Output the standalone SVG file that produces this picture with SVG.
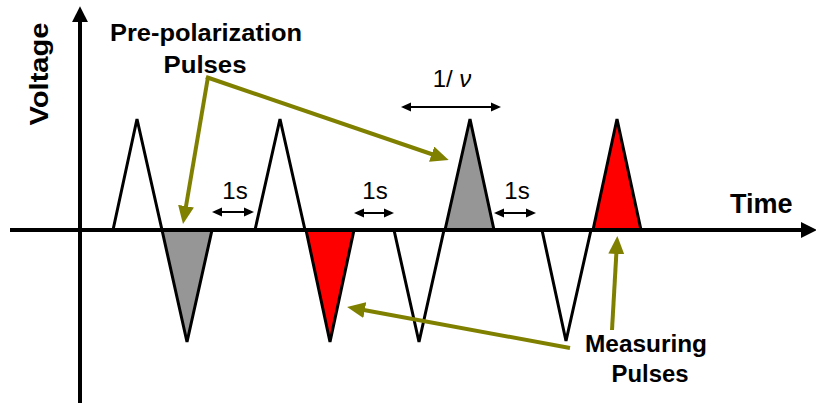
<svg xmlns="http://www.w3.org/2000/svg" width="816" height="403" viewBox="0 0 816 403">
<style>
.lbl{font-family:"Liberation Sans",Arial,sans-serif;font-weight:bold;fill:#000}
.reg{font-family:"Liberation Sans",Arial,sans-serif;fill:#000}
.tri{stroke:#000;stroke-width:3;stroke-linejoin:miter}
.olive{stroke:#808000;stroke-width:4;fill:none}
.dim{stroke:#000;stroke-width:2.2;fill:none}
.axis{stroke:#000;stroke-width:4;fill:none}
</style>
<defs>
<marker id="axHead" markerUnits="userSpaceOnUse" markerWidth="16" markerHeight="16" viewBox="0 0 14 14" refX="1" refY="7" orient="auto">
<path d="M0,0 L14,7 L0,14 Z" fill="#000"/>
</marker>
<marker id="olHead" markerUnits="userSpaceOnUse" markerWidth="18" markerHeight="16" viewBox="0 0 18 16" refX="12" refY="8" orient="auto">
<path d="M0,0 L18,8 L0,16 Z" fill="#808000"/>
</marker>
<marker id="dimEnd" markerUnits="userSpaceOnUse" markerWidth="10" markerHeight="10" viewBox="0 0 10 10" refX="8" refY="5" orient="auto">
<path d="M0,0.5 L10,5 L0,9.5 Z" fill="#000"/>
</marker>
<marker id="dimStart" markerUnits="userSpaceOnUse" markerWidth="10" markerHeight="10" viewBox="0 0 10 10" refX="2" refY="5" orient="auto">
<path d="M10,0.5 L0,5 L10,9.5 Z" fill="#000"/>
</marker>
</defs>

<g id="pulses">
<g id="pulse-up-1"><polyline class="tri" fill="none" points="113,230 137,119 162,230"/></g>
<g id="pulse-down-1"><polygon class="tri" fill="#969696" points="162,230 187,342 212,230"/></g>
<g id="pulse-up-2"><polyline class="tri" fill="none" points="255,230 280,119 305,230"/></g>
<g id="pulse-down-2"><polygon class="tri" fill="#ff0000" points="306,230 330,342 354,230"/></g>
<g id="pulse-down-3"><polyline class="tri" fill="none" points="394,230 419,342 444,230"/></g>
<g id="pulse-up-3"><polygon class="tri" fill="#969696" points="445,230 470,119 494,230"/></g>
<g id="pulse-down-4"><polyline class="tri" fill="none" points="542,230 566,341 591,230"/></g>
<g id="pulse-up-4"><polygon class="tri" fill="#ff0000" points="593,230 617,119 641,230"/></g>
</g>

<g id="axes">
<line class="axis" x1="10" y1="230" x2="802" y2="230" marker-end="url(#axHead)"/>
<line class="axis" x1="80" y1="403" x2="80" y2="21" marker-end="url(#axHead)"/>
</g>

<g id="connectors">
<line class="dim" x1="214" y1="212" x2="252" y2="212" marker-start="url(#dimStart)" marker-end="url(#dimEnd)"/>
<line class="dim" x1="356" y1="213" x2="392" y2="213" marker-start="url(#dimStart)" marker-end="url(#dimEnd)"/>
<line class="dim" x1="496" y1="213" x2="534" y2="213" marker-start="url(#dimStart)" marker-end="url(#dimEnd)"/>
<line class="dim" x1="403" y1="107" x2="499" y2="107" marker-start="url(#dimStart)" marker-end="url(#dimEnd)"/>
<line class="olive" x1="208" y1="77" x2="184" y2="218" marker-end="url(#olHead)"/>
<line class="olive" x1="206" y1="77" x2="443" y2="158" marker-end="url(#olHead)"/>
<line class="olive" x1="570" y1="348" x2="353" y2="308" marker-end="url(#olHead)"/>
<line class="olive" x1="612" y1="330" x2="617" y2="242" marker-end="url(#olHead)"/>
</g>

<g id="labels">
<text class="lbl" x="206" y="41" font-size="23" text-anchor="middle" textLength="192" lengthAdjust="spacingAndGlyphs">Pre-polarization</text>
<text class="lbl" x="205" y="73" font-size="23" text-anchor="middle" textLength="83" lengthAdjust="spacingAndGlyphs">Pulses</text>
<text class="lbl" x="646" y="352" font-size="23" text-anchor="middle" textLength="122" lengthAdjust="spacingAndGlyphs">Measuring</text>
<text class="lbl" x="650" y="382" font-size="23" text-anchor="middle" textLength="77" lengthAdjust="spacingAndGlyphs">Pulses</text>
<text class="lbl" x="730" y="213" font-size="27">Time</text>
<text class="lbl" transform="translate(48,74) rotate(-90)" font-size="26" text-anchor="middle" textLength="103" lengthAdjust="spacingAndGlyphs">Voltage</text>
<text class="reg" x="235" y="199" font-size="24" text-anchor="middle">1s</text>
<text class="reg" x="375" y="199" font-size="24" text-anchor="middle">1s</text>
<text class="reg" x="517" y="199" font-size="24" text-anchor="middle">1s</text>
<text class="reg" x="452" y="87" font-size="24" text-anchor="middle">1/ <tspan font-style="italic">ν</tspan></text>
</g>
</svg>
